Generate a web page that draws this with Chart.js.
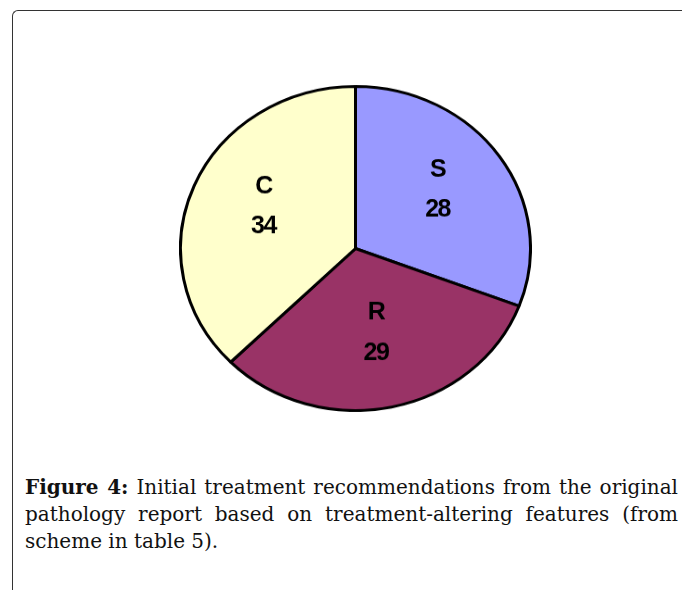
<!DOCTYPE html>
<html>
<head>
<meta charset="utf-8">
<script src="https://cdn.jsdelivr.net/npm/chart.js@4"></script>
<style>
  html, body { margin: 0; padding: 0; background: #fff; width: 682px; height: 590px; overflow: hidden; }
  #frame { position: absolute; left: 12px; top: 10px; width: 700px; height: 600px;
           border-top: 1.5px solid #333; border-left: 1.5px solid #333; border-top-left-radius: 6px; }
  #wrap { position: absolute; left: 178.5px; top: 71.5px; width: 353px; height: 353px;
          transform: scaleY(0.926); transform-origin: 50% 50%; }
  #caption { position: absolute; left: 25px; top: 474px; width: 653px;
             font-family: "DejaVu Serif", "Liberation Serif", serif; font-size: 20px; line-height: 27px;
             color: #111; }
  #caption .ln { display: block; text-align: justify; text-align-last: justify; white-space: nowrap; }
  #caption .ln.last { text-align: left; text-align-last: left; }
  #caption b { font-weight: bold; }
</style>
</head>
<body>
<div id="frame"></div>
<div id="wrap"><canvas id="c" width="353" height="353"></canvas></div>
<div id="caption"><span class="ln"><b>Figure 4:</b> Initial treatment recommendations from the original</span><span class="ln">pathology report based on treatment-altering features (from</span><span class="ln last">scheme in table 5).</span></div>
<script>
const categories = ["S", "R", "C"];
const values = [28, 29, 34];
const sliceColors = ["#9999FF", "#993366", "#FFFFCC"];
const Y_SCALE = 0.926;

const labelPlugin = {
  id: "sliceLabels",
  afterDatasetsDraw(chart) {
    const ctx = chart.ctx;
    const meta = chart.getDatasetMeta(0);
    meta.data.forEach((arc, i) => {
      const p = arc.getProps(["x", "y", "startAngle", "endAngle", "outerRadius"], true);
      const mid = (p.startAngle + p.endAngle) / 2;
      const r = p.outerRadius * 0.57;
      const x = p.x + Math.cos(mid) * r;
      const y = p.y + Math.sin(mid) * r;
      ctx.save();
      ctx.translate(x, y);
      ctx.scale(1, 1 / Y_SCALE);
      ctx.fillStyle = "#000";
      ctx.font = "bold 25px 'Liberation Sans', Arial, sans-serif";
      ctx.textAlign = "center";
      ctx.textBaseline = "middle";
      try { ctx.letterSpacing = "-1.5px"; } catch (e) {}
      ctx.fillText(categories[i], 0, -26);
      ctx.fillText(String(values[i]), 0, 14);
      ctx.restore();
    });
  }
};

new Chart(document.getElementById("c"), {
  type: "pie",
  data: {
    labels: categories,
    datasets: [{
      data: values,
      backgroundColor: sliceColors,
      borderColor: "#000",
      borderWidth: 3
    }]
  },
  options: {
    responsive: false,
    animation: false,
    layout: { padding: 0 },
    plugins: { legend: { display: false }, tooltip: { enabled: false } }
  },
  plugins: [labelPlugin]
});
</script>
</body>
</html>
